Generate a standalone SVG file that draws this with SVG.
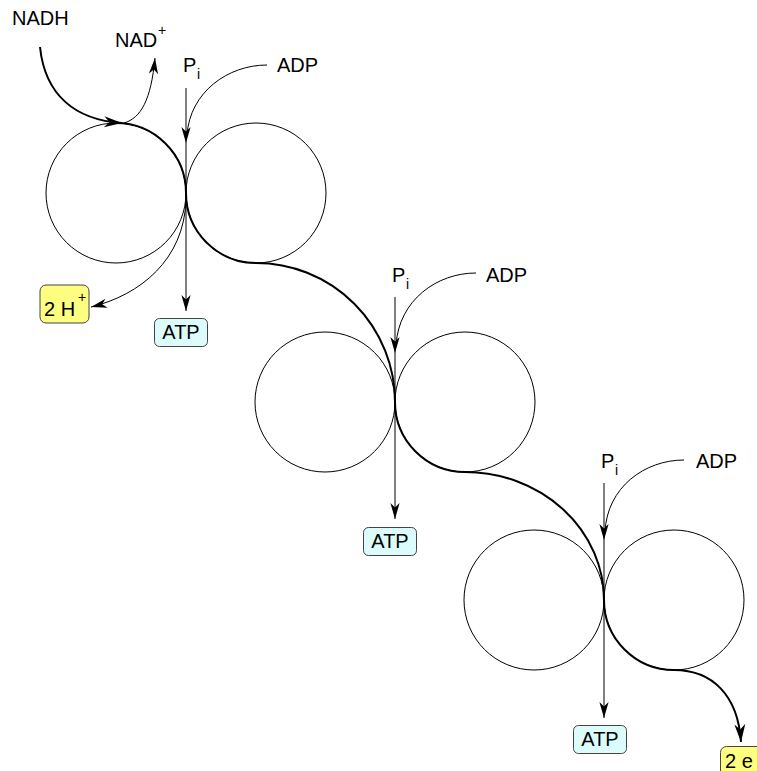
<svg xmlns="http://www.w3.org/2000/svg" width="757" height="771" viewBox="0 0 757 771">
  <style>
    .ring { fill: none; stroke: #000; stroke-width: 1; }
    .thin { fill: none; stroke: #000; stroke-width: 1; }
    .thick { fill: none; stroke: #000; stroke-width: 2; }
    .lbl { font-family: "Liberation Sans", Arial, sans-serif; font-size: 20px; fill: #000; }
    .sup { font-family: "Liberation Sans", Arial, sans-serif; font-size: 14px; fill: #000; }
    .atp { fill: #dcfcfc; stroke: #444; stroke-width: 1; }
    .yel { fill: #fdfd80; stroke: #444; stroke-width: 1; }
  </style>
  <defs>
    <marker id="arrThin" viewBox="-17 -6 18 12" refX="0" refY="0" markerWidth="18" markerHeight="12" markerUnits="userSpaceOnUse" orient="auto">
      <path d="M0,0 L-16,-4.6 L-11.5,0 L-16,4.6 Z" fill="#000"/>
    </marker>
    <marker id="arrThick" viewBox="-19 -7 20 14" refX="0" refY="0" markerWidth="20" markerHeight="14" markerUnits="userSpaceOnUse" orient="auto">
      <path d="M0,0 L-18,-5.5 L-12.5,0 L-18,5.5 Z" fill="#000"/>
    </marker>
  </defs>

  <!-- coupling sites: pairs of rings touching at a common point -->
  <g id="site1">
    <circle class="ring" cx="116" cy="193" r="70"/>
    <circle class="ring" cx="256" cy="193" r="70"/>
  </g>
  <g id="site2">
    <circle class="ring" cx="325" cy="402" r="70"/>
    <circle class="ring" cx="465" cy="402" r="70"/>
  </g>
  <g id="site3">
    <circle class="ring" cx="534" cy="600" r="70"/>
    <circle class="ring" cx="674" cy="600" r="70"/>
  </g>

  <g id="connectors">
    <!-- electron flow from NADH through the three sites -->
    <path class="thick" d="M40,47 C45,95 75,120 122,123" marker-end="url(#arrThick)"/>
    <path class="thick" d="M116,123 A70,70 0 0 1 186,193 A70,70 0 0 0 256,263 A139,139 0 0 1 395,402 A70,70 0 0 0 465,472 A139,128 0 0 1 604,600 A70,70 0 0 0 674,670 C712,670 738,695 741,742" marker-end="url(#arrThick)"/>
    <!-- NAD+ release -->
    <path class="thin" d="M124,123 C141,118 151,100 155,58" marker-end="url(#arrThin)"/>
    <!-- proton release -->
    <path class="thin" d="M186,200 C184,260 140,295 91,307" marker-end="url(#arrThin)"/>

    <!-- site 1: Pi + ADP to ATP -->
    <path class="thin" d="M186,88 L186,143" marker-end="url(#arrThin)"/>
    <path class="thin" d="M186,143 L186,311" marker-end="url(#arrThin)"/>
    <path class="thin" d="M267,65 C228,65 190,92 187,135"/>

    <!-- site 2 -->
    <path class="thin" d="M395,297 L395,353" marker-end="url(#arrThin)"/>
    <path class="thin" d="M395,353 L395,519" marker-end="url(#arrThin)"/>
    <path class="thin" d="M476,273 C437,273 399,300 396,345"/>

    <!-- site 3 -->
    <path class="thin" d="M604,483 L604,540" marker-end="url(#arrThin)"/>
    <path class="thin" d="M604,540 L604,718" marker-end="url(#arrThin)"/>
    <path class="thin" d="M684,460 C645,460 607,487 605,532"/>
  </g>

  <g id="nadh"><text class="lbl" x="12" y="25">NADH</text></g>
  <g id="nad"><text class="lbl" x="115" y="47">NAD</text><text class="sup" x="158" y="35">+</text></g>

  <g id="pi1"><text class="lbl" x="183" y="72">P</text><text class="sup" x="197" y="79">i</text></g>
  <g id="adp1"><text class="lbl" x="277" y="72">ADP</text></g>
  <g id="pi2"><text class="lbl" x="392" y="282">P</text><text class="sup" x="406" y="289">i</text></g>
  <g id="adp2"><text class="lbl" x="486" y="282">ADP</text></g>
  <g id="pi3"><text class="lbl" x="601" y="468">P</text><text class="sup" x="615" y="475">i</text></g>
  <g id="adp3"><text class="lbl" x="696" y="468">ADP</text></g>

  <g id="protons">
    <rect class="yel" x="40" y="285" width="49" height="38" rx="6"/>
    <text class="lbl" x="44" y="316">2 H</text><text class="sup" x="78" y="302">+</text>
  </g>

  <g id="atp1">
    <rect class="atp" x="154.5" y="318.5" width="53" height="28" rx="5"/>
    <text class="lbl" x="181" y="339" text-anchor="middle">ATP</text>
  </g>
  <g id="atp2">
    <rect class="atp" x="363.5" y="527.5" width="53" height="28" rx="5"/>
    <text class="lbl" x="390" y="548" text-anchor="middle">ATP</text>
  </g>
  <g id="atp3">
    <rect class="atp" x="573.5" y="725.5" width="53" height="28" rx="5"/>
    <text class="lbl" x="600" y="746" text-anchor="middle">ATP</text>
  </g>

  <g id="electrons">
    <rect class="yel" x="720.5" y="746.5" width="60" height="34" rx="6"/>
    <text class="lbl" x="725" y="768">2 e</text>
  </g>
</svg>
